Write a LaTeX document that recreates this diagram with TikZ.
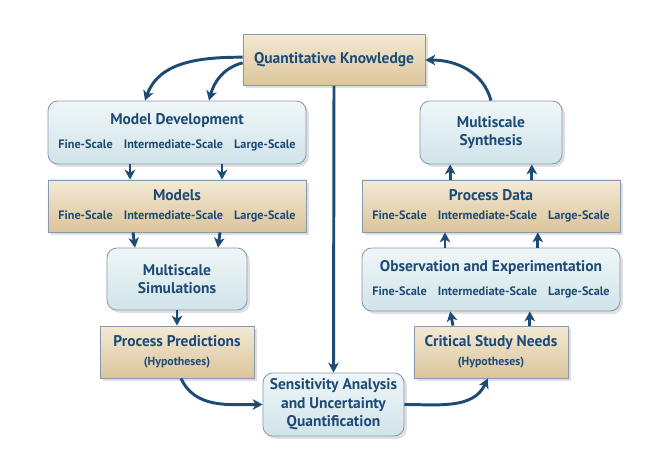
\documentclass[tikz,border=0pt]{standalone}
\usepackage{fontspec}
\setmainfont{PT Sans}
\usepackage{xcolor}
\usepackage{tikz}
\usetikzlibrary{arrows.meta,positioning,shadows,calc}
\definecolor{ink}{HTML}{1D4B76}
\definecolor{edge}{HTML}{8799AD}
\definecolor{tanTop}{HTML}{F3EAD4}
\definecolor{tanBot}{HTML}{DBC49A}
\definecolor{bluTop}{HTML}{F0F6F8}
\definecolor{bluBot}{HTML}{D0E4E9}
\tikzset{
  base/.style={draw=edge,line width=0.6pt,align=center,text=ink,font=\fontsize{11}{13.2}\selectfont\bfseries,inner sep=2pt,
    drop shadow={opacity=0.25,shadow xshift=2pt,shadow yshift=-2pt}},
  tanbox/.style={base,top color=tanTop,bottom color=tanBot},
  blubox/.style={base,rounded corners=7pt,top color=bluTop,bottom color=bluBot},
  arr/.style={-{Stealth[length=7pt,width=7.5pt,inset=2pt]},line width=2.1pt,draw=ink},
}
\newcommand{\scalerow}{{\fontsize{8.7}{10}\selectfont Fine-Scale\hspace{0.9em}Intermediate-Scale\hspace{0.9em}Large-Scale}}
\newcommand{\hyp}{{\fontsize{8.4}{10}\selectfont (Hypotheses)}}

\begin{document}
\begin{tikzpicture}[x=0.025cm,y=-0.025cm]
\useasboundingbox (0,0) rectangle (660,456);
% top
\node[tanbox,minimum width=4.55cm,minimum height=1.275cm] (qk) at (334,60) {Quantitative Knowledge};
% left column
\node[blubox,minimum width=6.45cm,minimum height=1.575cm] (md) at (177,132.5) {Model Development\\[4pt]\scalerow};
\node[tanbox,minimum width=6.45cm,minimum height=1.3cm] (mo) at (177,206) {Models\\[0pt]\scalerow};
\node[blubox,minimum width=3.5cm,minimum height=1.55cm] (ms) at (177,279) {Multiscale\\Simulations};
\node[tanbox,minimum width=3.85cm,minimum height=1.3cm] (pp) at (177,352) {Process Predictions\\\hyp};
% bottom
\node[blubox,minimum width=3.525cm,minimum height=1.575cm] (sa) at (333.5,404.5) {Sensitivity Analysis\\and Uncertainty\\Quantification};
% right column
\node[tanbox,minimum width=3.85cm,minimum height=1.3cm] (cs) at (491,352) {Critical Study Needs\\\hyp};
\node[blubox,minimum width=6.45cm,minimum height=1.575cm] (ob) at (491,279.5) {Observation and Experimentation\\[4pt]\scalerow};
\node[tanbox,minimum width=6.45cm,minimum height=1.3cm] (pd) at (491,206) {Process Data\\[0pt]\scalerow};
\node[blubox,minimum width=3.55cm,minimum height=1.575cm] (sy) at (491,132.5) {Multiscale\\Synthesis};

% connectors
\draw[arr] ([yshift=2pt]qk.west) to[out=180,in=70] ([xshift=-0.8cm]md.north);
\draw[arr] ([yshift=-2pt]qk.west) to[out=195,in=75] ([xshift=0.8cm]md.north);
\draw[arr] ([xshift=-1.175cm]md.south) -- ([xshift=-1.175cm]mo.north);
\draw[arr] ([xshift=1.125cm]md.south) -- ([xshift=1.125cm]mo.north);
\draw[arr] ([xshift=-1.1cm]mo.south) -- ([xshift=-1.05cm]ms.north);
\draw[arr] ([xshift=1.075cm]mo.south) -- ([xshift=1.025cm]ms.north);
\draw[arr] (ms.south) -- (pp.north);
\draw[arr] ([xshift=0.1cm]pp.south) to[out=-65,in=180] (sa.west);
\draw[arr] (qk.south) -- (sa.north);
\draw[arr] (sa.east) to[out=0,in=-115] ([xshift=-0.08cm]cs.south);
\draw[arr] ([xshift=-0.95cm]cs.north) -- ([xshift=-1.02cm]ob.south);
\draw[arr] ([xshift=0.97cm]cs.north) -- ([xshift=0.97cm]ob.south);
\draw[arr] ([xshift=-1.15cm]ob.north) -- ([xshift=-1.15cm]pd.south);
\draw[arr] ([xshift=1.17cm]ob.north) -- ([xshift=1.17cm]pd.south);
\draw[arr] ([xshift=-1.02cm]pd.north) -- ([xshift=-1.02cm]sy.south);
\draw[arr] ([xshift=1.02cm]pd.north) -- ([xshift=1.02cm]sy.south);
\draw[arr] (sy.north) to[out=105,in=0] (qk.east);
\end{tikzpicture}
\end{document}
